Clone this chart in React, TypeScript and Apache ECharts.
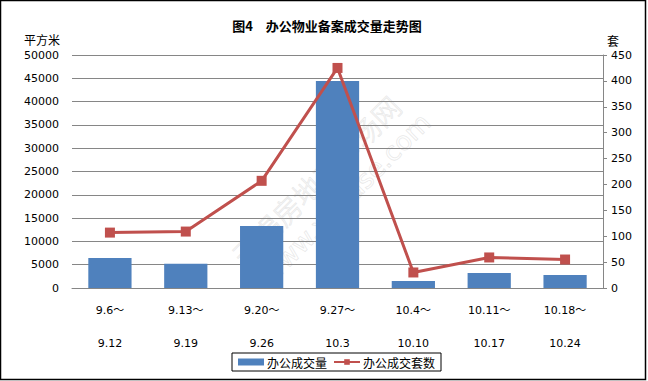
import React, { useEffect, useRef } from "react";
import * as echarts from "echarts";

const categories = ["9.6～\n\n9.12", "9.13～\n\n9.19", "9.20～\n\n9.26", "9.27～\n\n10.3", "10.4～\n\n10.10", "10.11～\n\n10.17", "10.18～\n\n10.24"];
const areaValues = [6450, 5200, 13300, 44400, 1500, 3200, 2800];
const countValues = [107, 109, 207, 425, 30, 59, 55];
const seriesNames = ["办公成交量", "办公成交套数"];
const titleText = "图4　办公物业备案成交量走势图";
const leftUnit = "平方米";
const rightUnit = "套";

const labelFont = "'DejaVu Sans', 'Noto Sans CJK SC', sans-serif";
const cjkFont = "'Noto Sans CJK SC', sans-serif";

export default function App() {
  const ref = useRef<HTMLDivElement>(null);
  useEffect(() => {
    if (!ref.current) return;
    const chart = echarts.init(ref.current, null, { renderer: "svg" });
    chart.setOption({
      animation: false,
      backgroundColor: "#fff",
      title: {
        text: titleText,
        left: 322,
        textAlign: "center",
        top: 14,
        textStyle: { fontFamily: cjkFont, fontSize: 13, fontWeight: "bold", color: "#000" },
      },
      grid: { left: 72, right: 45, top: 55, bottom: 93 },
      legend: {
        left: 232,
        top: 353,
        padding: [3, 6, 3, 6],
        borderColor: "#000",
        borderWidth: 1,
        itemWidth: 26,
        itemHeight: 7,
        itemGap: 6,
        textStyle: { fontFamily: cjkFont, fontSize: 12, color: "#000", padding: [0, 0, 0, -2] },
        data: [
          { name: seriesNames[0], icon: "rect" },
          { name: seriesNames[1] },
        ],
      },
      xAxis: {
        type: "category",
        data: categories,
        axisLine: { show: true, lineStyle: { color: "#868686", width: 1 } },
        axisTick: { show: false },
        axisLabel: {
          interval: 0,
          margin: 14,
          lineHeight: 16.5,
          fontFamily: labelFont,
          fontSize: 11,
          color: "#000",
        },
      },
      yAxis: [
        {
          type: "value",
          min: 0,
          max: 50000,
          interval: 5000,
          name: leftUnit,
          nameLocation: "end",
          nameGap: 10,
          nameTextStyle: { fontFamily: cjkFont, fontSize: 12, color: "#000", padding: [0, 60, 0, 0] },
          axisLine: { show: false },
          axisTick: { show: false },
          axisLabel: {
            fontFamily: labelFont,
            fontSize: 11,
            color: "#000",
            margin: 13,
            formatter: (v: number) => String(v),
          },
          splitLine: { show: true, lineStyle: { color: "#868686", width: 1 } },
        },
        {
          type: "value",
          min: 0,
          max: 450,
          interval: 50,
          name: rightUnit,
          nameLocation: "end",
          nameGap: 9,
          nameTextStyle: { fontFamily: cjkFont, fontSize: 12, color: "#000", padding: [0, 0, 0, 20] },
          axisLine: { show: true, lineStyle: { color: "#868686", width: 1 } },
          axisTick: { show: true, inside: false, length: 4, lineStyle: { color: "#868686" } },
          axisLabel: { fontFamily: labelFont, fontSize: 11, color: "#000", margin: 8 },
          splitLine: { show: false },
        },
      ],
      series: [
        {
          name: seriesNames[0],
          type: "bar",
          data: areaValues,
          yAxisIndex: 0,
          barWidth: "57%",
          itemStyle: { color: "#4F81BD" },
        },
        {
          name: seriesNames[1],
          type: "line",
          data: countValues,
          yAxisIndex: 1,
          symbol: "rect",
          symbolSize: 10,
          lineStyle: { color: "#C0504D", width: 3 },
          itemStyle: { color: "#C0504D" },
          z: 3,
        },
      ],
      graphic: [
        {
          type: "group",
          x: 316,
          y: 180,
          rotation: Math.PI / 4,
          z: 10,
          silent: true,
          children: [
            {
              type: "text",
              x: 0,
              y: 0,
              style: {
                text: "无锡房地产市场网",
                fontFamily: cjkFont,
                fontSize: 28,
                fontWeight: 300,
                align: "center",
                verticalAlign: "middle",
                fill: "rgba(255,255,255,0.15)",
                stroke: "rgba(215,215,215,0.6)",
                lineWidth: 0.8,
              },
            },
            {
              type: "text",
              x: 8,
              y: 34,
              style: {
                text: "www.xhouse.com",
                fontFamily: "'DejaVu Sans', sans-serif",
                fontSize: 26,
                align: "center",
                verticalAlign: "middle",
                fill: "rgba(255,255,255,0.15)",
                stroke: "rgba(215,215,215,0.6)",
                lineWidth: 0.8,
              },
            },
          ],
        },
        {
          type: "rect",
          z: 20,
          silent: true,
          shape: { x: 0.5, y: 0.5, width: 645, height: 379 },
          style: { fill: "none", stroke: "#000", lineWidth: 1.5 },
        },
      ],
    });
    return () => chart.dispose();
  }, []);
  return <div ref={ref} style={{ position: "absolute", left: 0, top: 0, width: 648, height: 381 }} />;
}
